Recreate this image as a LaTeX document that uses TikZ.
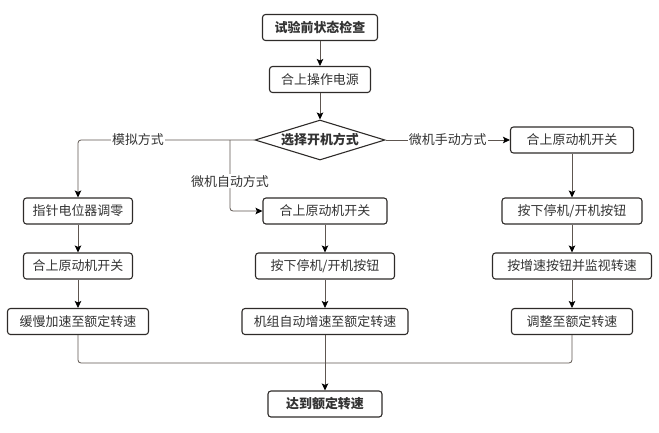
\documentclass[tikz,border=0pt]{standalone}
\usepackage{fontspec}
\setmainfont{Noto Sans CJK SC}
\usetikzlibrary{positioning}
\usetikzlibrary{shapes.geometric}
\usetikzlibrary{arrows.meta}
\definecolor{edgegray}{HTML}{5E5650}
\definecolor{boxgray}{HTML}{2E2B29}
\definecolor{txtgray}{HTML}{333333}
\tikzset{st/.style={draw=boxgray,line width=1.1pt,rounded corners=3pt,inner xsep=8bp,minimum height=26bp,text=txtgray,font=\fontsize{13}{15}\selectfont}}
\tikzset{stb/.style={st,font=\fontsize{13}{15}\selectfont\bfseries}}
\tikzset{dec/.style={diamond,aspect=3.25,draw=boxgray,line width=1.1pt,inner sep=1pt,minimum width=130bp,minimum height=40bp,text=txtgray,font=\fontsize{13}{15}\selectfont\bfseries}}
\tikzset{ln/.style={draw=edgegray,line width=0.8pt}}
\tikzset{ar/.style={ln,-{Stealth[length=7bp,width=6.5bp,inset=1.5bp,color=black]}}}
\tikzset{lbl/.style={fill=white,inner sep=1pt,text=txtgray,font=\fontsize{13}{15}\selectfont}}

\begin{document}
\begin{tikzpicture}[x=1bp, y=-1bp, on grid]
        \useasboundingbox (0,0) rectangle (659,432);
        \node[stb, minimum width=115bp] (check) at (320,27.5) {试验前状态检查};
        \node[st, minimum width=101bp, below=52bp of check] (power) {合上操作电源};
        \node[dec, below=60.5bp of power] (mode) {选择开机方式};
        \node[st, minimum width=123bp, right=252bp of mode] (rsw) {合上原动机开关};
        \node[st, minimum width=140bp, below=71bp of rsw] (rbtn) {按下停机/开机按钮};
        \node[st, minimum width=159bp, below=55bp of rbtn] (rinc) {按增速按钮并监视转速};
        \node[st, minimum width=121bp, below=55.5bp of rinc] (rset) {调整至额定转速};
        \node[st, minimum width=124bp] (msw) at (325,211) {合上原动机开关};
        \node[st, minimum width=139bp, below=55bp of msw] (mbtn) {按下停机/开机按钮};
        \node[st, minimum width=166bp, below=55.5bp of mbtn] (mauto) {机组自动增速至额定转速};
        \node[st, minimum width=109bp, left=247bp of msw] (lzero) {指针电位器调零};
        \node[st, minimum width=109bp, below=55bp of lzero] (lsw) {合上原动机开关};
        \node[st, minimum width=141bp, below=55.5bp of lsw] (lacc) {缓慢加速至额定转速};
        \node[stb, minimum width=114bp, below=82.5bp of mauto] (done) {达到额定转速};
        \coordinate[left=90bp of mode] (split);
        \coordinate[below=41.5bp of mauto] (join);
        \draw[ar] (check) -- (power);
        \draw[ar] (power) -- (mode);
        \draw[ar] (mode) -- node[lbl] {微机手动方式} (rsw);
        \draw[ar, rounded corners=3pt] (mode) -| node[lbl, pos=0.33] {模拟方式} (lzero);
        \draw[ar, rounded corners=3pt] (split) |- node[lbl, pos=0.29] {微机自动方式} (msw);
        \draw[ar] (rsw) -- (rbtn);
        \draw[ar] (rbtn) -- (rinc);
        \draw[ar] (rinc) -- (rset);
        \draw[ar] (msw) -- (mbtn);
        \draw[ar] (mbtn) -- (mauto);
        \draw[ar] (lzero) -- (lsw);
        \draw[ar] (lsw) -- (lacc);
        \draw[ln, rounded corners=3pt] (lacc) |- (join) -| (rset);
        \draw[ln] (mauto) -- (join);
        \draw[ar] (join) -- (done);
    \end{tikzpicture}
\end{document}
